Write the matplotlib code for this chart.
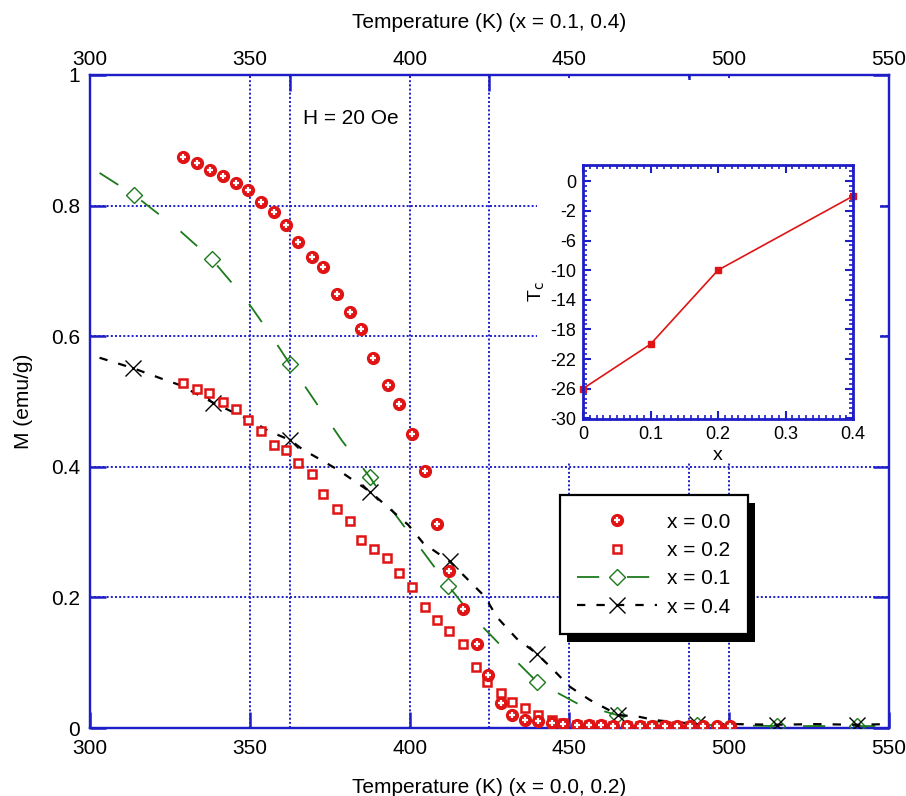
import numpy as np
import matplotlib
matplotlib.use("Agg")
import matplotlib.pyplot as plt
from matplotlib.patches import Rectangle
from matplotlib.legend_handler import HandlerTuple
from matplotlib.ticker import AutoMinorLocator, MultipleLocator

plt.rcParams['font.family'] = ['Liberation Sans', 'DejaVu Sans']
plt.rcParams['lines.scale_dashes'] = False

BLUE = '#1e1ec8'
RED = '#e01414'
GREEN = '#1c7a1c'

# M(T) curves, H = 20 Oe
t_x00 = [329.0, 333.4, 337.5, 341.7, 345.7, 349.3, 353.5, 357.6, 361.3, 365.2,
         369.4, 373.0, 377.2, 381.4, 384.8, 388.6, 393.1, 396.7, 400.7, 404.8,
         408.5, 412.4, 416.7, 421.0, 424.4, 428.6, 431.9, 436.1, 440.3, 444.5,
         447.9, 452.3, 456.2, 459.9, 463.7, 467.9, 472.1, 475.7, 479.9, 483.6,
         487.7, 491.9, 496.1, 500.3]
m_x00 = [0.875, 0.865, 0.855, 0.845, 0.834, 0.824, 0.805, 0.790, 0.770, 0.745,
         0.722, 0.706, 0.665, 0.637, 0.611, 0.567, 0.525, 0.496, 0.451, 0.393,
         0.312, 0.241, 0.182, 0.128, 0.081, 0.038, 0.020, 0.012, 0.010, 0.008,
         0.006, 0.004, 0.004, 0.004, 0.003, 0.003, 0.003, 0.003, 0.003, 0.003,
         0.003, 0.003, 0.003, 0.003]

t_x02 = [329.0, 333.4, 337.3, 341.7, 345.7, 349.3, 353.5, 357.6, 361.2, 365.2,
         369.4, 373.0, 377.2, 381.4, 384.8, 388.9, 393.0, 396.6, 400.7, 404.8,
         408.5, 412.4, 416.6, 420.8, 424.1, 428.5, 432.1, 436.1, 440.2, 444.5,
         447.9, 452.3, 456.2, 459.9, 463.7, 467.9, 472.1, 475.7, 479.9, 483.6,
         487.7]
m_x02 = [0.529, 0.519, 0.513, 0.499, 0.488, 0.472, 0.455, 0.433, 0.425, 0.406,
         0.389, 0.358, 0.335, 0.317, 0.288, 0.274, 0.261, 0.237, 0.216, 0.186,
         0.165, 0.148, 0.128, 0.094, 0.071, 0.054, 0.040, 0.030, 0.020, 0.012,
         0.008, 0.005, 0.004, 0.004, 0.003, 0.003, 0.003, 0.003, 0.003, 0.003,
         0.003]

t_x01 = [303.0, 313.9, 328.0, 338.1, 349.0, 356.3, 362.6, 370.9, 378.7, 387.6,
         394.9, 402.7, 412.1, 419.9, 430.4, 439.8, 452.3, 464.8, 477.0, 489.8,
         502.0, 514.9, 527.0, 539.9, 550.0]
m_x01 = [0.850, 0.816, 0.762, 0.718, 0.655, 0.604, 0.557, 0.497, 0.441, 0.384,
         0.331, 0.280, 0.218, 0.170, 0.117, 0.071, 0.038, 0.020, 0.010, 0.005,
         0.004, 0.003, 0.003, 0.003, 0.003]
mk_x01 = [1, 3, 6, 9, 12, 15, 17, 19, 21, 23]

t_x04 = [303.0, 313.5, 322.4, 328.2, 338.6, 351.1, 355.8, 362.6, 366.7, 372.5,
         377.7, 387.6, 399.6, 404.3, 412.6, 417.9, 423.6, 427.3, 433.5, 439.8,
         445.0, 450.2, 456.4, 465.3, 472.0, 477.0, 489.8, 502.0, 514.9, 527.0,
         539.9, 550.0]
m_x04 = [0.567, 0.551, 0.535, 0.525, 0.498, 0.469, 0.455, 0.441, 0.426, 0.410,
         0.395, 0.362, 0.311, 0.283, 0.255, 0.229, 0.201, 0.170, 0.137, 0.114,
         0.089, 0.063, 0.043, 0.020, 0.017, 0.012, 0.006, 0.006, 0.005, 0.006,
         0.005, 0.006]
mk_x04 = [1, 4, 7, 11, 14, 19, 23, 26, 28, 30]

# inset: Tc vs composition
x_comp = [0.0, 0.1, 0.2, 0.4]
tc_vals = [-26, -20, -10, 0]
tc_tick_pos = [-30, -26, -22, -18, -14, -10, -6, -2, 2]
tc_tick_lab = ['-30', '-26', '-22', '-18', '-14', '-10', '-6', '-2', '0']

bottom_ticks = [300, 350, 400, 450, 500, 550]
top_ticks = [362.5, 425, 487.5]
m_ticks = [0, 0.2, 0.4, 0.6, 0.8, 1]
m_tick_lab = ['0', '0.2', '0.4', '0.6', '0.8', '1']

fig = plt.figure(figsize=(9.06, 7.96), dpi=100)
ax = fig.add_axes([0.0993, 0.0854, 0.8819, 0.8204])
ax_top = ax.twiny()
ax.set_zorder(ax_top.get_zorder() + 1)
ax.patch.set_visible(False)

grid_kw = dict(color=BLUE, linestyle=(0, (1.4, 1.6)), linewidth=1.4)

ax.set_xlim(300, 550)
ax.set_ylim(0, 1)
ax.set_xticks(bottom_ticks)
ax.set_xticklabels([str(v) for v in bottom_ticks])
ax.set_yticks(m_ticks)
ax.set_yticklabels(m_tick_lab)
ax.tick_params(axis='both', direction='in', length=11.5, width=1.8, color=BLUE,
               labelsize=15, pad=8)
ax.tick_params(axis='y', right=True, pad=7)
ax.tick_params(axis='x', top=False)
ax.grid(True, **grid_kw)

ax_top.set_xlim(300, 550)
ax_top.set_xticks(top_ticks)
ax_top.set_xticklabels([])
ax_top.set_xticks(bottom_ticks, minor=True)
ax_top.set_xticklabels([str(v) for v in bottom_ticks], minor=True)
ax_top.tick_params(axis='x', which='major', direction='in', length=11.5, width=1.8,
                   color=BLUE)
ax_top.tick_params(axis='x', which='minor', length=0, labelsize=15, pad=4)
ax_top.xaxis.grid(True, which='major', **grid_kw)

for a in (ax, ax_top):
    for sp in a.spines.values():
        sp.set_color(BLUE)
        sp.set_linewidth(1.6)

ax.set_xlabel('Temperature (K) (x = 0.0, 0.2)', fontsize=15, labelpad=14)
ax_top.set_xlabel('Temperature (K) (x = 0.1, 0.4)', fontsize=15, labelpad=16)
ax.set_ylabel('M (emu/g)', fontsize=15, labelpad=13)

# curves
l01, = ax.plot(t_x01, m_x01, color=GREEN, lw=1.3, linestyle=(0, (16, 20)),
               marker='D', ms=8, mfc='none', mec=GREEN, mew=1.0,
               markevery=mk_x01, zorder=3)
l04, = ax.plot(t_x04, m_x04, color='black', lw=1.6, linestyle=(0, (6, 8)),
               marker='x', ms=12, mec='black', mew=1.0,
               markevery=mk_x04, zorder=3)
l02, = ax.plot(t_x02, m_x02, linestyle='none', marker='s', ms=5.2, mfc='white',
               mec=RED, mew=1.8, zorder=4)
l00, = ax.plot(t_x00, m_x00, linestyle='none', marker='o', ms=8.5, mfc=RED,
               mec=RED, zorder=5)
l00p, = ax.plot(t_x00, m_x00, linestyle='none', marker='+', ms=4.5, mec='white',
                mew=1.6, zorder=6)

ax.text(366.6, 0.934, 'H = 20 Oe', fontsize=15, va='center', ha='left')

leg = ax.legend([(l00, l00p), l02, l01, l04],
                ['x = 0.0', 'x = 0.2', 'x = 0.1', 'x = 0.4'],
                handler_map={tuple: HandlerTuple(ndivide=1)},
                loc='upper left', bbox_to_anchor=(0.588, 0.357), borderaxespad=0,
                fontsize=15, handlelength=3.8, handletextpad=0.5,
                labelspacing=0.45, borderpad=0.85, fancybox=False,
                framealpha=1, edgecolor='black')
leg.get_frame().set_linewidth(1.6)
leg.set_zorder(8)

# white backing behind the inset and its labels
ax.add_patch(Rectangle((537 / 906, 1 - 462 / 796), (880 - 537) / 906, (462 - 80) / 796,
                       transform=fig.transFigure, facecolor='white',
                       edgecolor='none', zorder=7, clip_on=False))

# inset
ins = fig.add_axes([583 / 906, 1 - 419 / 796, 270 / 906, 254 / 796])
ins.set_zorder(ax.get_zorder() + 1)
ins.plot(x_comp, tc_vals, color=RED, lw=1.2, marker='s', ms=5, mfc=RED, mec=RED,
         clip_on=False)
ins.set_xlim(0, 0.4)
ins.set_ylim(-30.1, 4.2)
ins.set_xticks([0, 0.1, 0.2, 0.3, 0.4])
ins.set_xticklabels(['0', '0.1', '0.2', '0.3', '0.4'])
ins.set_yticks(tc_tick_pos)
ins.set_yticklabels(tc_tick_lab)
ins.xaxis.set_minor_locator(MultipleLocator(0.01))
ins.yaxis.set_minor_locator(AutoMinorLocator(6))
ins.tick_params(which='both', direction='in', top=True, right=True, color=BLUE,
                labelsize=13, pad=5)
ins.tick_params(which='major', length=6, width=1.5)
ins.tick_params(which='minor', length=3, width=1.2)
for sp in ins.spines.values():
    sp.set_color(BLUE)
    sp.set_linewidth(2.0)
ins.set_xlabel('x', fontsize=14, labelpad=3)
ins.set_ylabel('T$_\\mathrm{c}$', fontsize=14, labelpad=2)

# solid black drop shadow for the legend box
fig.canvas.draw()
bb = leg.get_window_extent(fig.canvas.get_renderer())
bbf = bb.transformed(fig.transFigure.inverted())
ax.add_patch(Rectangle((bbf.x0 + 7 / 906, bbf.y0 - 8 / 796), bbf.width, bbf.height,
                       transform=fig.transFigure, facecolor='black',
                       edgecolor='none', zorder=7.5, clip_on=False))

fig.savefig('out.png', dpi=100)
